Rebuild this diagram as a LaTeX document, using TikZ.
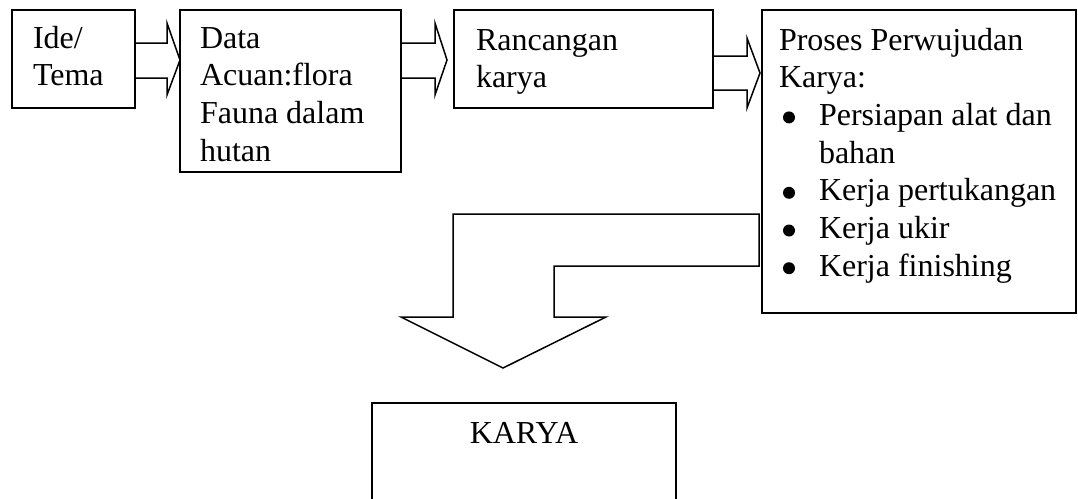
\documentclass[tikz,border=0pt]{standalone}
\usepackage{fontspec}
\setmainfont{Liberation Serif}
\hyphenpenalty=10000\relax
\newcommand{\topstrut}[1]{\rule{0pt}{#1pt}}
\newcommand{\botstrut}[1]{\rule[-#1pt]{0pt}{#1pt}}
\newcommand{\bul}{\makebox[40pt][l]{\hspace{4pt}\raisebox{2pt}{\tikz\fill (0,0) circle (6pt);}}}
\begin{document}
\begin{tikzpicture}[x=1pt,y=-1pt,
  box/.style={draw, line width=1.5pt, align=flush left, outer sep=0pt, inner ysep=0pt,
    font=\fontsize{32}{37.7}\selectfont, anchor=north west},
  barrow/.style={draw, line width=1.5pt, line join=miter},
  lbl/.style={font=\fontsize{32}{37.7}\selectfont, inner sep=0pt}]
\clip (0,0) rectangle (1078,498);
\node[box, text width=81pt, inner xsep=21pt, minimum height=98pt] (ide) at (12,10)
  {\topstrut{25}Ide/\\Tema\botstrut{9.3}};
\node[box, text width=181pt, inner xsep=20pt, minimum height=162pt] (data) at (180,10)
  {\topstrut{30}Data\\Acuan:flora\\Fauna dalam\\hutan\botstrut{2.9}};
\node[box, text width=215pt, inner xsep=22pt, minimum height=98pt] (ranc) at (454,10)
  {\topstrut{27}Rancangan\\karya\botstrut{7.3}};
\node[box, text width=280pt, inner xsep=17pt, minimum height=303pt] (proses) at (762,10)
  {\topstrut{24}Proses Perwujudan\\Karya:\\
   \bul Persiapan alat dan\\
   \hspace*{40pt}bahan\\
   \bul Kerja pertukangan\\
   \bul Kerja ukir\\
   \bul Kerja finishing\botstrut{20.8}};
\node[draw, line width=1.5pt, outer sep=0pt, anchor=north west, minimum width=304pt, minimum height=130pt] (karya) at (372,403) {};
\node[lbl, anchor=base] (karyat) at (524,443) {KARYA};
% block arrows
\draw[barrow] (135,43) -- (167,43) -- (167,23) -- (180,60) -- (167,95) -- (167,78) -- (135,78);
\draw[barrow] (401,43) -- (435,43) -- (435,23) -- (447,60) -- (435,95) -- (435,78) -- (401,78);
\draw[barrow] (713,56) -- (747,56) -- (747,38) -- (760,73) -- (747,108) -- (747,90) -- (713,90);
\draw[barrow] (759,214) -- (453,214) -- (453,317) -- (401,317) -- (503,368) -- (606,317) -- (554,317) -- (554,266) -- (759,266) -- cycle;
\end{tikzpicture}
\end{document}
